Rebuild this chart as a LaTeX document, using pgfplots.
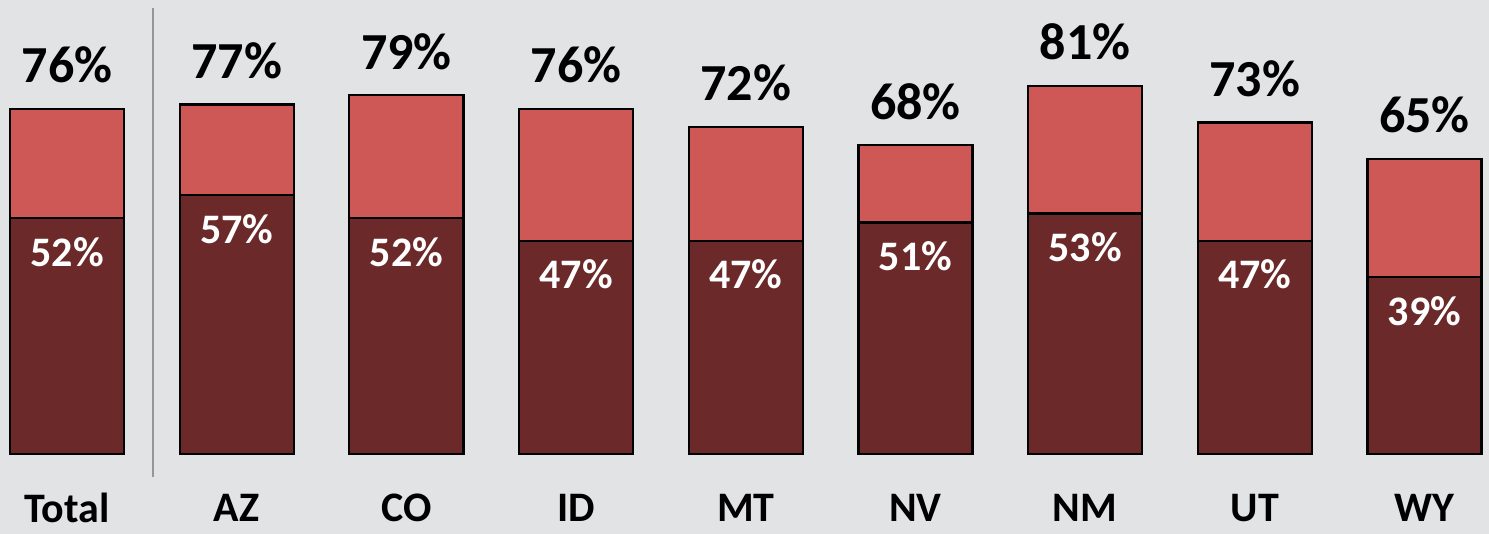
\documentclass[border=0pt]{standalone}
\usepackage{pgfplots}
\pgfplotsset{compat=1.18}
\usepackage{pgfplotstable}
\usepackage{fontspec}
\setmainfont{Carlito}
\definecolor{bg}{RGB}{226,227,229}
\definecolor{lightred}{RGB}{205,88,86}
\definecolor{darkred}{RGB}{107,41,41}
\definecolor{sepgray}{RGB}{150,150,150}
\tikzset{catlab/.style={font=\bfseries\fontsize{21}{21}\selectfont, anchor=center}}
\pgfplotstableread{
x dark total
0 52 76
1 57 77
2 52 79
3 47 76
4 47 72
5 51 68
6 53 81
7 47 73
8 39 65
}\data
\begin{document}
\begin{tikzpicture}
\begin{axis}[
  width=744.5pt, height=267pt, scale only axis,
  xmin=-0.395, xmax=8.38, ymin=-17.6, ymax=100,
  axis line style={draw=none}, ticks=none,
  axis background/.style={fill=bg},
  ybar=0pt, bar width=0.672, bar shift=0pt,
  /pgf/number format/assume math mode=true,
  clip=false,
]
\addplot[fill=lightred, draw=black, line width=1.1pt,
  nodes near coords={\pgfmathprintnumber{\pgfplotspointmeta}\%},
  nodes near coords style={font=\bfseries\fontsize{26}{26}\selectfont, text=black, anchor=center, yshift=22pt},
  point meta=explicit]
  table[x=x, y=total, meta=total] {\data};
\addplot[fill=darkred, draw=black, line width=1.1pt,
  nodes near coords={\pgfmathprintnumber{\pgfplotspointmeta}\%},
  nodes near coords style={font=\bfseries\fontsize{21}{21}\selectfont, text=white, anchor=center, yshift=-17pt},
  point meta=explicit]
  table[x=x, y=dark, meta=dark] {\data};
\draw[sepgray, line width=0.9pt] (axis cs:0.507,98.2) -- (axis cs:0.507,-5.1);
\node[catlab] at (axis cs:0,-11.9) {Total};
\node[catlab] at (axis cs:1,-11.9) {AZ};
\node[catlab] at (axis cs:2,-11.9) {CO};
\node[catlab] at (axis cs:3,-11.9) {ID};
\node[catlab] at (axis cs:4,-11.9) {MT};
\node[catlab] at (axis cs:5,-11.9) {NV};
\node[catlab] at (axis cs:6,-11.9) {NM};
\node[catlab] at (axis cs:7,-11.9) {UT};
\node[catlab] at (axis cs:8,-11.9) {WY};
\end{axis}
\end{tikzpicture}
\end{document}
